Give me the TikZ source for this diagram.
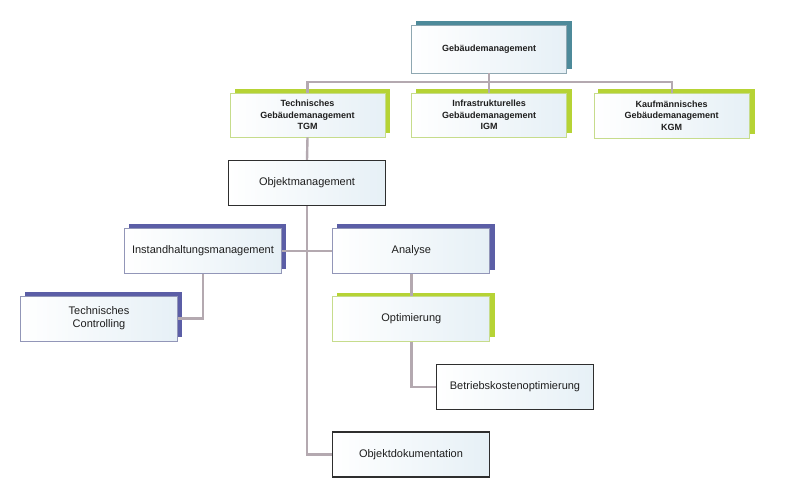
\documentclass[tikz,border=0pt]{standalone}
\usepackage{fontspec}
\setmainfont{Liberation Sans}
\begin{document}
\begin{tikzpicture}[x=1pt,y=-1pt,
  box/.style={rectangle,minimum width=157pt,minimum height=45pt,inner sep=2pt,align=center,
    left color=white,right color=boxblue,text=txt,font=\fontsize{11}{13}\selectfont,line width=0.8pt},
  bbox/.style={box,font=\bfseries\fontsize{9}{11.5}\selectfont,minimum width=155pt,minimum height=44pt},
  grn/.style={draw=bordgreen},
  blu/.style={draw=bordblue},
  blk/.style={draw=bordblack,line width=1.1pt},
  tea/.style={draw=bordteal},
  conn/.style={draw=conncol,line width=2.4pt},
]
\definecolor{boxblue}{HTML}{E6F0F6}
\definecolor{txt}{HTML}{1E1E1E}
\definecolor{bordgreen}{HTML}{C6DC8C}
\definecolor{bordblue}{HTML}{9296B8}
\definecolor{bordblack}{HTML}{2E2E2E}
\definecolor{bordteal}{HTML}{8FA8B2}
\definecolor{shgreen}{HTML}{B6D335}
\definecolor{shblue}{HTML}{5B5EA6}
\definecolor{shteal}{HTML}{4D8A9A}
\definecolor{conncol}{HTML}{B4A9B0}
\useasboundingbox[fill=white] (0,0) rectangle (800,488);

% shadows (drawn first)
\fill[shteal]  (416.2,21) rectangle (571.7,69);
\fill[shgreen] (234.5,89) rectangle (390,133);
\fill[shgreen] (415.5,89) rectangle (571.5,133);
\fill[shgreen] (598,89) rectangle (754.5,134);
\fill[shblue]  (128.8,224) rectangle (286.2,269);
\fill[shblue]  (337.2,224) rectangle (494.5,269.5);
\fill[shblue]  (25.2,291.7) rectangle (181.8,336.5);
\fill[shgreen] (337.2,292.5) rectangle (494.5,336.5);

\coordinate (bar) at (489.2,82);
\node[bbox,tea,minimum height=48pt] (gm) at (489.2,49) {Gebäudemanagement};
\node[bbox,grn] (tgm) at (307.5,115) {Technisches\\Gebäudemanagement\\TGM};
\node[bbox,grn] (igm) at (489.2,115) {Infrastrukturelles\\Gebäudemanagement\\IGM};
\node[bbox,grn,minimum height=45pt] (kgm) at (671.7,115.5) {Kaufmännisches\\Gebäudemanagement\\KGM};
\node[box,blk] (om) at (307,183) {Objektmanagement};
\node[box,blu] (ih) at (203,251) {Instandhaltungsmanagement};
\node[box,blu] (an) at (411.3,251) {Analyse};
\node[box,blu] (tc) at (99,318.5) {Technisches\\Controlling};
\node[box,grn] (op) at (411.3,319) {Optimierung};
\node[box,blk] (bk) at (515,387) {Betriebskostenoptimierung};
\node[box,blk] (od) at (411,454.5) {Objektdokumentation};

\draw[conn] (gm.south) -- (bar);
\draw[conn] (tgm.north) |- (bar) -| (kgm.north);
\draw[conn] (bar) -- (igm.north);
\draw[conn] (tgm.south) -- (om.north);
\draw[conn] (om.south) |- (od.west);
\draw[conn] (ih.east) -- (an.west);
\draw[conn] (ih.south) |- (tc.east);
\draw[conn] (an.south) -- (op.north);
\draw[conn] (op.south) |- (bk.west);
\end{tikzpicture}
\end{document}
